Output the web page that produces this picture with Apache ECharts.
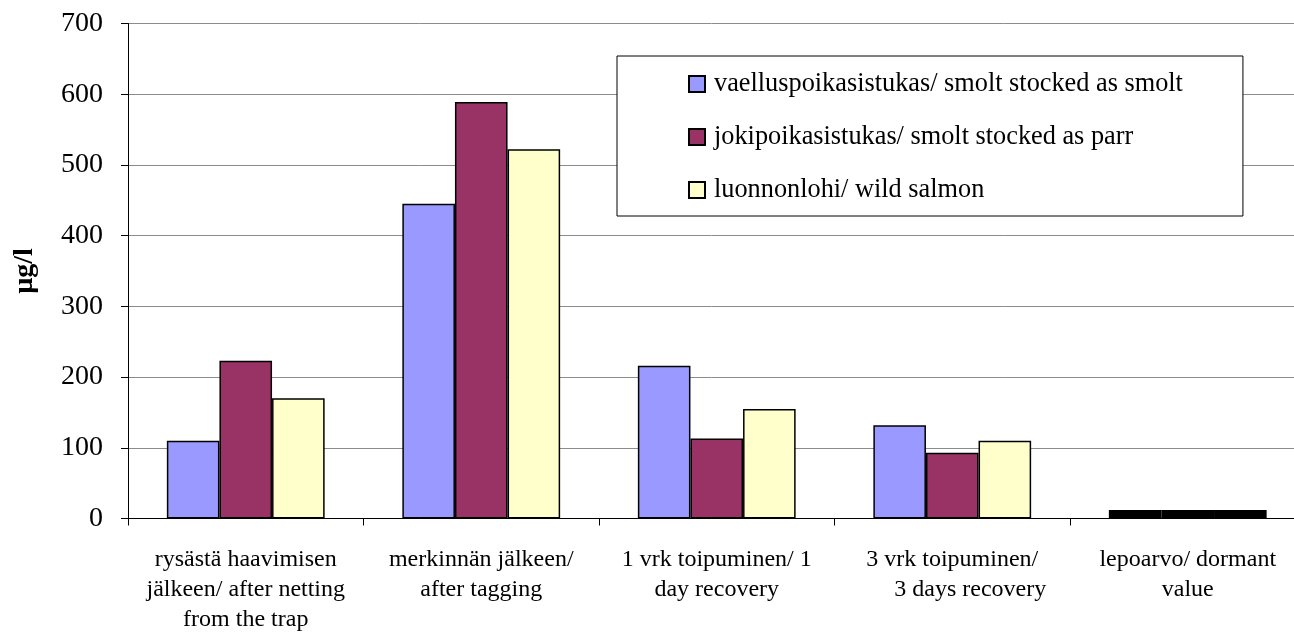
<!DOCTYPE html>
<html>
<head>
<meta charset="utf-8">
<title>µg/l</title>
<script src="https://cdn.jsdelivr.net/npm/echarts@6/dist/echarts.min.js"></script>
<style>
  html, body { margin: 0; padding: 0; background: #ffffff; }
  #chart { width: 1294px; height: 632px; }
</style>
</head>
<body>
<div id="chart"></div>
<script>
// Sampling stages (x-axis categories)
const categories = [
  'rysästä haavimisen\njälkeen/ after netting\nfrom the trap',
  'merkinnän jälkeen/\nafter tagging',
  '1 vrk toipuminen/ 1\nday recovery',
  '3 vrk toipuminen/\n      3 days recovery',
  'lepoarvo/ dormant\nvalue'
];

// Series names
const seriesNames = [
  'vaelluspoikasistukas/ smolt stocked as smolt',
  'jokipoikasistukas/ smolt stocked as parr',
  'luonnonlohi/ wild salmon'
];

// Values, µg/l
const smoltValues = [110, 445, 216, 132, 12];
const parrValues  = [223, 589, 113, 93, 12];
const wildValues  = [170, 522, 155, 110, 12];

// Y-axis ticks
const yMin = 0;
const yMax = 700;
const yStep = 100;

const serifFont = "'Liberation Serif', 'Times New Roman', serif";
const seriesColors = ['#9999ff', '#993366', '#ffffcc'];
const dormantIndex = 4;

function buildData(values) {
  return values.map((v, i) => i === dormantIndex
    ? { value: v, itemStyle: { color: '#000000' } }
    : v);
}

const valueLists = [smoltValues, parrValues, wildValues];

const chart = echarts.init(document.getElementById('chart'), null, { renderer: 'canvas' });

chart.setOption({
  backgroundColor: '#ffffff',
  animation: false,
  // plot area runs past the right edge of the canvas
  grid: {
    left: 128, right: -11.5, top: 23.5, bottom: 113.5,
    containLabel: false,
    outerBoundsMode: 'none'
  },
  legend: {
    orient: 'vertical',
    left: 617,
    top: 56,
    padding: [13, 60, 11, 71],
    itemGap: 23,
    itemWidth: 16,
    itemHeight: 16,
    borderColor: '#000000',
    borderWidth: 1,
    backgroundColor: '#ffffff',
    icon: 'rect',
    textStyle: {
      fontFamily: serifFont,
      fontSize: 26.3,
      color: '#000000',
      lineHeight: 30,
      padding: [0, 0, 0, 4]
    },
    data: seriesNames
  },
  xAxis: {
    type: 'category',
    data: categories,
    axisLine: { show: true, lineStyle: { color: '#000000', width: 1 } },
    axisTick: { show: true, alignWithLabel: false, length: 7, lineStyle: { color: '#000000' } },
    axisLabel: {
      interval: 0,
      margin: 26,
      fontFamily: serifFont,
      fontSize: 24,
      lineHeight: 30,
      color: '#000000',
      align: 'center'
    },
    splitLine: { show: false }
  },
  yAxis: {
    type: 'value',
    min: yMin,
    max: yMax,
    interval: yStep,
    name: 'µg/l',
    nameLocation: 'middle',
    nameRotate: 90,
    nameGap: 89,
    nameTextStyle: {
      fontFamily: serifFont,
      fontSize: 28,
      fontWeight: 'bold',
      color: '#000000'
    },
    axisLine: { show: true, lineStyle: { color: '#000000', width: 1 } },
    axisTick: { show: true, inside: false, length: 7, lineStyle: { color: '#000000' } },
    axisLabel: {
      margin: 25,
      fontFamily: serifFont,
      fontSize: 28,
      color: '#000000'
    },
    splitLine: { show: true, lineStyle: { color: '#8c8c8c', width: 1 } }
  },
  series: seriesNames.map((name, k) => ({
    name: name,
    type: 'bar',
    data: buildData(valueLists[k]),
    barGap: '0%',
    barCategoryGap: '33%',
    itemStyle: {
      color: seriesColors[k],
      borderColor: '#000000',
      borderWidth: 1.5
    },
    emphasis: { disabled: true }
  }))
});
</script>
</body>
</html>
